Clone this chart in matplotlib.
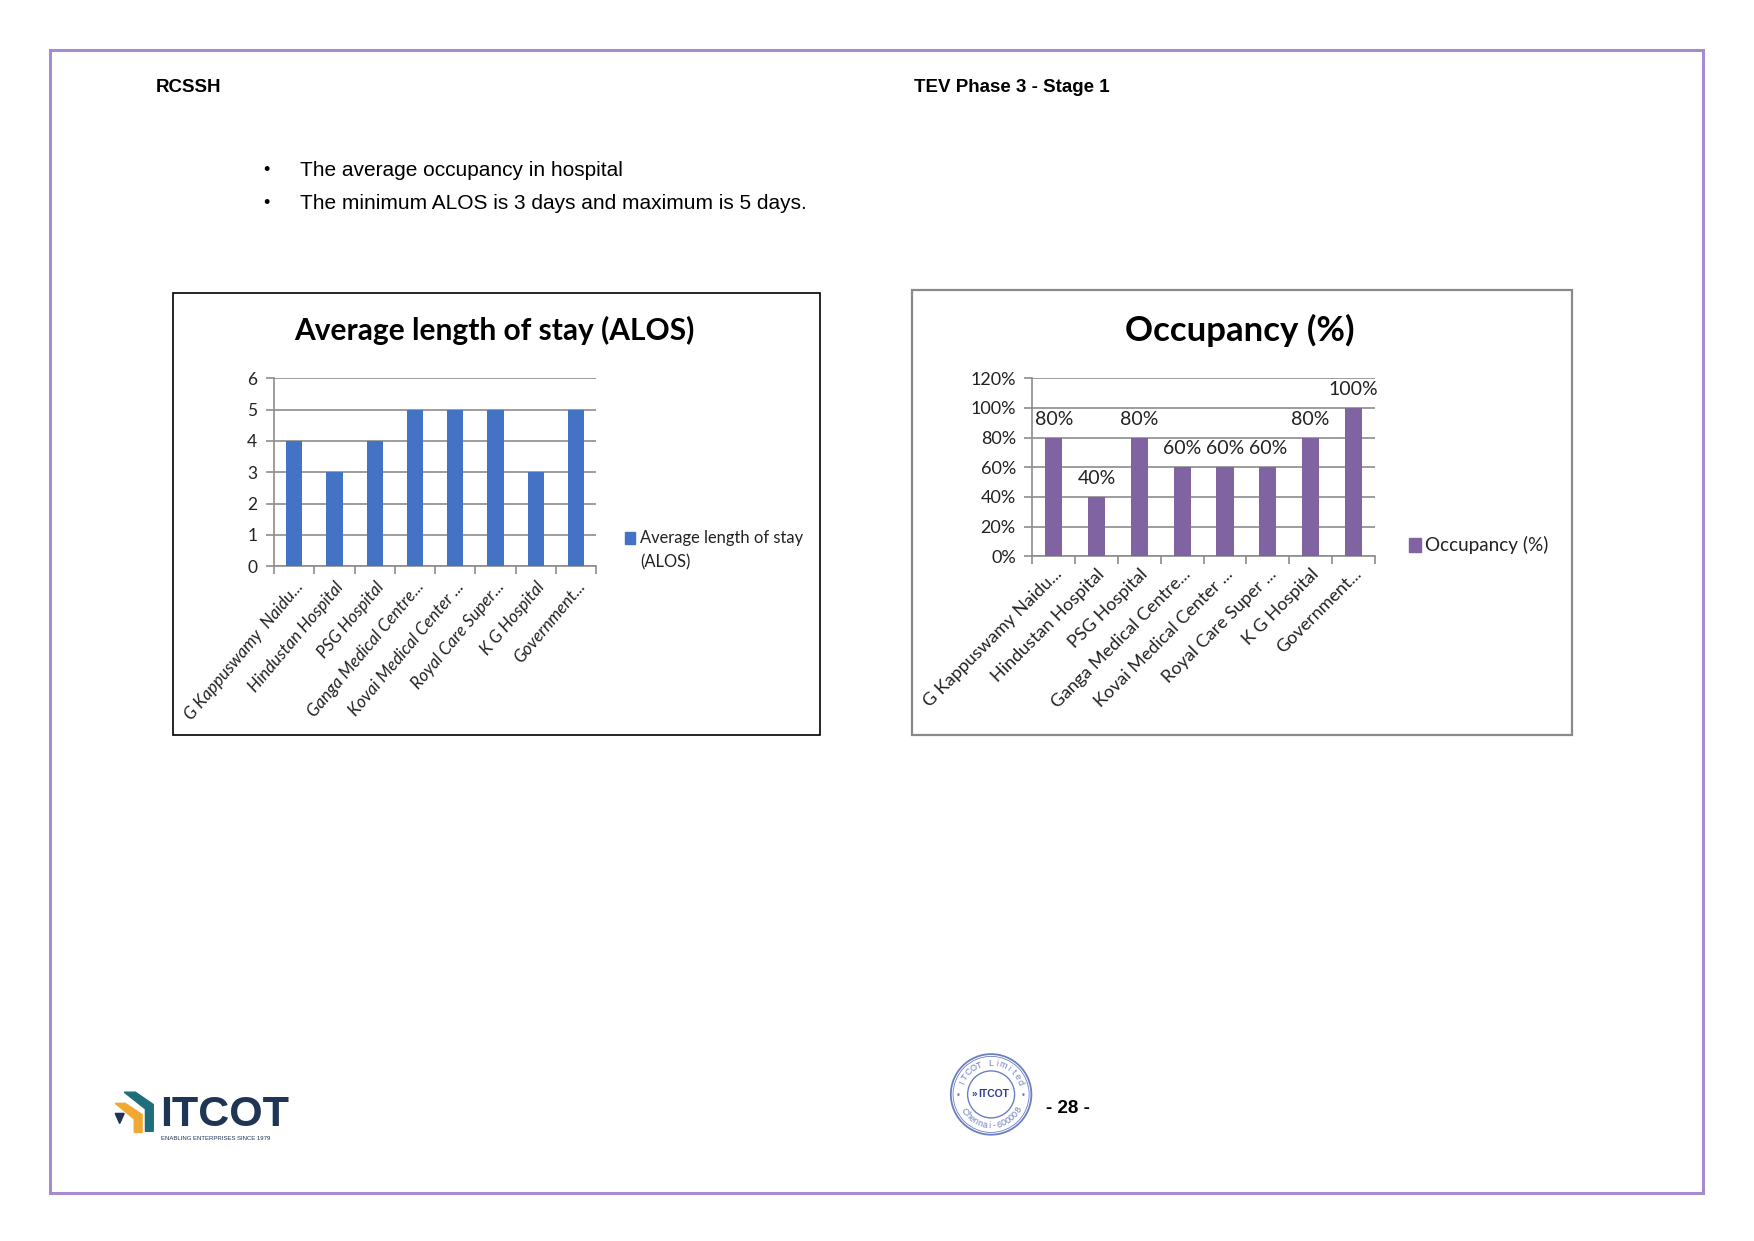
import matplotlib
matplotlib.use("Agg")
import matplotlib.pyplot as plt
import numpy as np
from matplotlib.patches import Rectangle, Circle, Polygon

# ---------------- data ----------------
alos_hospitals = ["G Kappuswamy  Naidu...", "Hindustan Hospital", "PSG Hospital",
                  "Ganga Medical Centre...", "Kovai Medical Center ...",
                  "Royal Care Super...", "K G Hospital", "Government..."]
occ_hospitals = ["G Kappuswamy Naidu...", "Hindustan Hospital", "PSG Hospital",
                 "Ganga Medical Centre...", "Kovai Medical Center ...",
                 "Royal Care Super ...", "K G Hospital", "Government..."]
alos_days = [4, 3, 4, 5, 5, 5, 3, 5]
occupancy_pct = [80, 40, 80, 60, 60, 60, 80, 100]
alos_yticks = [0, 1, 2, 3, 4, 5, 6]
occ_yticks = [0, 20, 40, 60, 80, 100, 120]
alos_title = "Average length of stay (ALOS)"
occ_title = "Occupancy (%)"
alos_legend = ["Average length of stay", "(ALOS)"]
occ_legend = "Occupancy (%)"
header_left = "RCSSH"
header_right = "TEV Phase 3 - Stage 1"
bullets = ["The average occupancy in hospital",
           "The minimum ALOS is 3 days and maximum is 5 days."]
page_no = "- 28 -"

BLUE = "#4472C4"
PURPLE = "#8064A2"
GRID = "#8c8c8c"
CH = "Lato"
DOC = "Liberation Sans"

W, H = 1568.0, 1109.0
fig = plt.figure(figsize=(17.54, 12.41), dpi=100)
fig.patch.set_facecolor("white")

bg = fig.add_axes([0, 0, 1, 1])
bg.set_xlim(0, W)
bg.set_ylim(H, 0)
bg.axis("off")


def frac(x0, y0, x1, y1):
    return [x0 / W, 1 - y1 / H, (x1 - x0) / W, (y1 - y0) / H]


# page border
bg.add_patch(Rectangle((45, 45), 1477, 1021, fill=False, ec="#a58bd0", lw=2.2))

# header
bg.text(139, 78, header_left, fontsize=13.5, fontweight="bold", family=DOC, va="center", ha="left")
bg.text(817, 78, header_right, fontsize=13.5, fontweight="bold", family=DOC, va="center", ha="left")

# bullets
for i, b in enumerate(bullets):
    y = 152.5 + i * 29.5
    bg.text(238, y, "\u2022", fontsize=13, family=DOC, va="center", ha="center")
    bg.text(268, y, b, fontsize=15, family=DOC, va="center", ha="left")

# chart boxes
bg.add_patch(Rectangle((155, 262), 578, 395, fill=False, ec="black", lw=1.2))
bg.add_patch(Rectangle((815, 259), 590, 398, fill=False, ec="#8a8a8a", lw=1.6))

# titles
bg.text(442, 295, alos_title, fontsize=21.5, fontweight="bold", family=CH, ha="center", va="center")
bg.text(1108, 295, occ_title, fontsize=25, fontweight="bold", family=CH, ha="center", va="center")


def style_axes(ax, n, pad):
    ax.set_xlim(-0.5, n - 0.5)
    for s in ["top", "right"]:
        ax.spines[s].set_visible(False)
    for s in ["left", "bottom"]:
        ax.spines[s].set_color(GRID)
        ax.spines[s].set_linewidth(1.2)
    ax.yaxis.grid(True, color=GRID, lw=1.2, zorder=0)
    ax.set_axisbelow(True)
    ax.set_xticks(np.arange(n))
    ax.set_xticks(np.arange(n + 1) - 0.5, minor=True)
    ax.tick_params(axis="x", which="major", length=0, pad=pad)
    ax.tick_params(axis="x", which="minor", length=6, color=GRID, width=1.2, direction="out")
    ax.tick_params(axis="y", length=6, color=GRID, width=1.2, direction="out", pad=6)


# ---------------- ALOS chart ----------------
ax1 = fig.add_axes(frac(245, 338, 533, 506))
x1 = np.arange(len(alos_days))
ax1.bar(x1, alos_days, width=0.4, color=BLUE, zorder=3)
style_axes(ax1, len(alos_days), pad=9)
ax1.set_ylim(0, 6)
ax1.set_yticks(alos_yticks)
ax1.set_yticklabels([str(v) for v in alos_yticks], family=CH, fontsize=12.5, color="#222222")
ax1.set_xticklabels(alos_hospitals, rotation=50, ha="right", rotation_mode="anchor",
                    family=CH, style="italic", fontsize=12.3, color="#222222")

# ALOS legend
bg.add_patch(Rectangle((559, 475), 9, 11, color=BLUE))
bg.text(572, 481, alos_legend[0], fontsize=11.9, family=CH, va="center", ha="left", color="#222222")
bg.text(572, 503, alos_legend[1], fontsize=11.9, family=CH, va="center", ha="left", color="#222222")

# ---------------- Occupancy chart ----------------
ax2 = fig.add_axes(frac(923, 338, 1229, 497))
x2 = np.arange(len(occupancy_pct))
ax2.bar(x2, occupancy_pct, width=0.4, color=PURPLE, zorder=3)
style_axes(ax2, len(occupancy_pct), pad=7)
ax2.set_ylim(0, 120)
ax2.set_yticks(occ_yticks)
ax2.set_yticklabels([f"{v}%" for v in occ_yticks], family=CH, fontsize=13, color="#222222")
ax2.set_xticklabels(occ_hospitals, rotation=45, ha="right", rotation_mode="anchor",
                    family=CH, fontsize=13, color="#222222")
for xi, v in zip(x2, occupancy_pct):
    ax2.annotate(f"{v}%", (xi, v), xytext=(0, 7), textcoords="offset points",
                 ha="center", va="bottom", fontsize=14, family=CH, color="#222222")

# Occupancy legend
bg.add_patch(Rectangle((1260, 481), 10, 12, color=PURPLE))
bg.text(1274, 487, occ_legend, fontsize=13.6, family=CH, va="center", ha="left", color="#222222")

# ---------------- footer: logo ----------------
teal = "#1f6f7a"
gold = "#f0a830"
navy = "#1e3553"
bg.add_patch(Polygon([(111, 976), (121, 976), (137, 987), (137, 1011), (130, 1011), (130, 991)],
                     closed=True, color=teal))
bg.add_patch(Polygon([(103, 986), (112, 986), (127, 996), (127, 1012), (120, 1012), (120, 1000)],
                     closed=True, color=gold))
bg.add_patch(Polygon([(103, 995), (111, 995), (107, 1004)], closed=True, color=navy))
bg.text(143, 996, "ITCOT", fontsize=31, fontweight="bold", family=DOC, color=navy,
        ha="left", va="center")
bg.text(144, 1017, "ENABLING ENTERPRISES SINCE 1979", fontsize=4.3, family=DOC, color=navy,
        ha="left", va="center")

# ---------------- footer: stamp ----------------
cx, cy = 886, 978
sc = "#6b7fc0"
bg.add_patch(Circle((cx, cy), 36, fill=False, ec=sc, lw=1.3))
bg.add_patch(Circle((cx, cy), 34, fill=False, ec=sc, lw=0.6))
bg.add_patch(Circle((cx, cy), 21, fill=False, ec=sc, lw=1.0))


def arc_text(txt, r, a0, a1, top=True):
    angs = np.linspace(a0, a1, len(txt))
    for ch, a in zip(txt, angs):
        t = np.deg2rad(a)
        px, py = cx + r * np.cos(t), cy - r * np.sin(t)
        rot = a - 90 if top else a + 90
        bg.text(px, py, ch, fontsize=6.5, family=DOC, color=sc, rotation=rot,
                ha="center", va="center", rotation_mode="anchor")


arc_text("ITCOT Limited", 28, 158, 22, top=True)
arc_text("Chennai-600008", 28, 212, 330, top=False)
bg.text(cx - 29, cy + 1, "\u2022", fontsize=6, color=sc, ha="center", va="center")
bg.text(cx + 29, cy + 1, "\u2022", fontsize=6, color=sc, ha="center", va="center")
bg.text(cx + 2, cy, "ITCOT", fontsize=7.5, fontweight="bold", family=DOC, color="#2c3f8f",
        ha="center", va="center")
bg.text(cx - 15, cy, "\u00bb", fontsize=7, fontweight="bold", family=DOC, color="#2c3f8f",
        ha="center", va="center")

bg.text(955, 991, page_no, fontsize=13.5, fontweight="bold", family=DOC, ha="center", va="center")

fig.savefig("out.png", dpi=100, facecolor="white")
